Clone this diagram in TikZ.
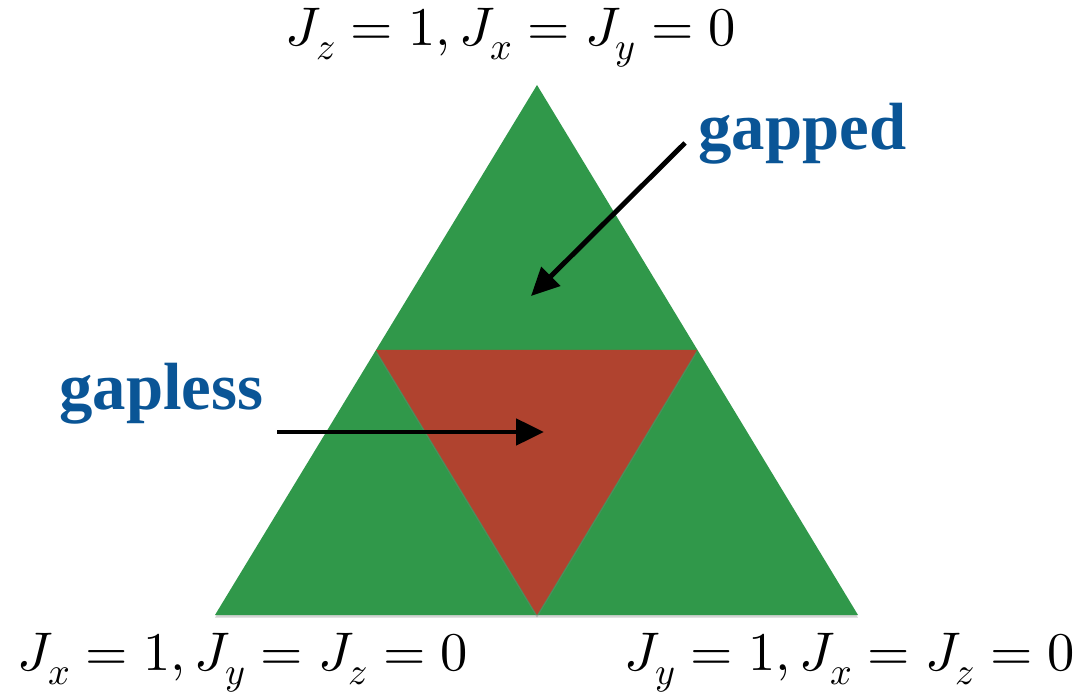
\documentclass[tikz,border=0pt]{standalone}
\usepackage{fontspec}
\setmainfont{Liberation Serif}
\usepackage{unicode-math}
\setmathfont{Latin Modern Math}
\usetikzlibrary{arrows.meta, positioning, shadows}
\definecolor{cgreen}{HTML}{30984A}
\definecolor{cred}{HTML}{B0432F}
\definecolor{cblue}{HTML}{0A5596}
\tikzset{
  every picture/.style={x=0.02cm, y=-0.02cm},
  region/.style={fill=#1, draw=none, drop shadow={opacity=0.35, shadow xshift=0pt, shadow yshift=-1.5pt}},
  phase/.style={font=\fontsize{38}{41}\selectfont\bfseries, text=cblue, inner sep=0pt},
  corner/.style={font=\fontsize{31}{34}\selectfont, inner sep=0pt},
  arrow/.style={-{Triangle[length=5.6mm, width=5.2mm]}, line width=2.8pt, draw=black},
}
\begin{document}
\begin{tikzpicture}
  \useasboundingbox (0,0) rectangle (1082,692);
  % outer triangle and its corners
  \coordinate (top) at (537,85);
  \coordinate (bl) at (215,615);
  \coordinate (br) at (858,615);
  % inner triangle
  \coordinate (ml) at (376,350);
  \coordinate (mr) at (697,350);
  \coordinate (mb) at (537,615);
  \fill[region=cgreen] (top) -- (br) -- (bl) -- cycle;
  \fill[region=cred] (ml) -- (mr) -- (mb) -- cycle;
  \node[corner] (ztop) at (511,38) {$J_z=1, J_x=J_y=0$};
  \node[corner] (xleft) at (243,663) {$J_x=1, J_y=J_z=0$};
  \node[corner] (yright) at (850,663) {$J_y=1, J_x=J_z=0$};
  \node[phase, anchor=base west] (gapped) at (698,150) {gapped};
  \node[phase, anchor=base west] (gapless) at (59,410) {gapless};
  \coordinate (gappedtail) at (685,143);
  \coordinate (gappedtip) at (531,296);
  \coordinate (gaplesstail) at (277,432);
  \coordinate (gaplesstip) at (544,432);
  \draw[arrow] (gappedtail) -- (gappedtip);
  \draw[arrow] (gaplesstail) -- (gaplesstip);
\end{tikzpicture}
\end{document}
